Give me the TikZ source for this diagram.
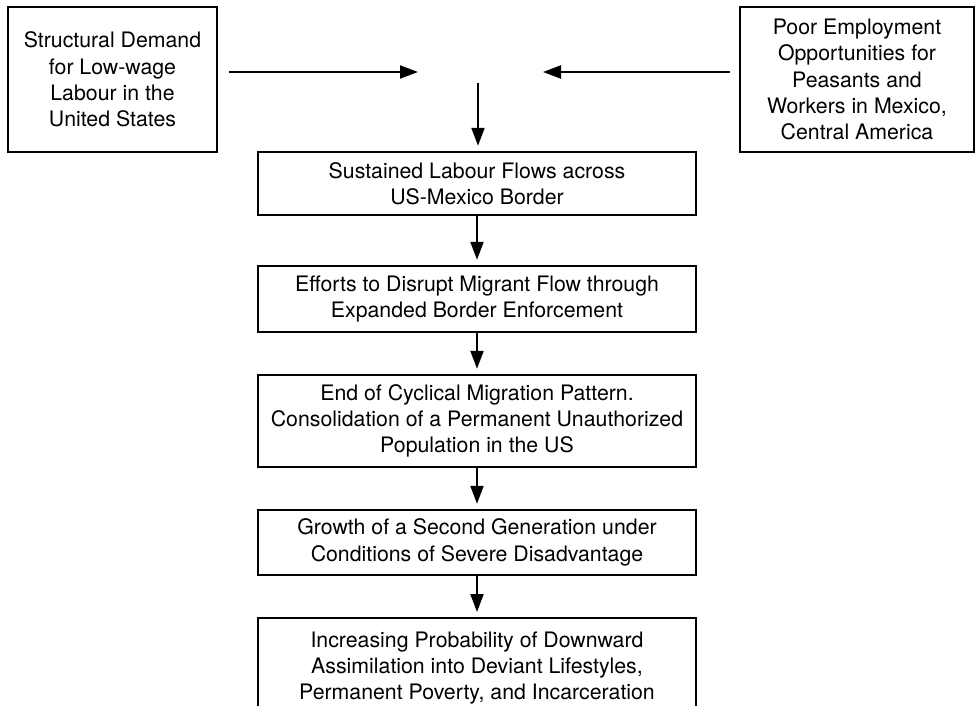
\documentclass[tikz,border=0pt]{standalone}
\usepackage{fontspec}
\setmainfont{TeX Gyre Heros}
\usetikzlibrary{arrows.meta}
\begin{document}
\begin{tikzpicture}[x=1pt,y=-1pt,
  box/.style={draw=black, line width=2.4pt, align=center, inner sep=0pt,
    font=\fontsize{21.3}{26.3}\selectfont},
  arr/.style={line width=2.2pt, -{Triangle[length=18pt,width=13pt]}}]
\useasboundingbox (0,0) rectangle (975,706);
\clip (0,0) rectangle (975,706);
\node[box, minimum width=209pt, minimum height=145pt] (left) at (112.5,79.5)
  {Structural Demand\\for Low-wage\\Labour in the\\United States};
\node[box, minimum width=234pt, minimum height=145pt] (right) at (857,79.5)
  {Poor Employment\\Opportunities for\\Peasants and\\Workers in Mexico,\\Central America};
\node[box, minimum width=438pt, minimum height=63pt] (b1) at (477,183.5)
  {Sustained Labour Flows across\\US-Mexico Border};
\node[box, minimum width=438pt, minimum height=66pt] (b2) at (477,299)
  {Efforts to Disrupt Migrant Flow through\\Expanded Border Enforcement};
\node[box, minimum width=438pt, minimum height=92pt] (b3) at (477,421)
  {End of Cyclical Migration Pattern.\\Consolidation of a Permanent Unauthorized\\Population in the US};
\node[box, minimum width=438pt, minimum height=65pt] (b4) at (477,542.5)
  {Growth of a Second Generation under\\Conditions of Severe Disadvantage};
\node[box, minimum width=438pt, minimum height=100pt, anchor=north] (b5) at (477,617)
  {Increasing Probability of Downward\\Assimilation into Deviant Lifestyles,\\Permanent Poverty, and Incarceration};
\coordinate (lt) at (418,72);
\coordinate (rt) at (543,72);
\coordinate (mg) at (478,83);
\draw[arr] (left.east |- lt) ++(11pt,0) coordinate (ls) -- (lt);
\draw[arr] (right.west |- rt) ++(-9pt,0) coordinate (rs) -- (rt);
\draw[arr, shorten >=5pt] (mg) -- (mg |- b1.north);
\draw[arr, shorten >=5pt] (b1.south) -- (b2.north);
\draw[arr, shorten >=5pt] (b2.south) -- (b3.north);
\draw[arr, shorten >=5pt] (b3.south) -- (b4.north);
\draw[arr, shorten >=5pt] (b4.south) -- (b5.north);
\end{tikzpicture}
\end{document}
